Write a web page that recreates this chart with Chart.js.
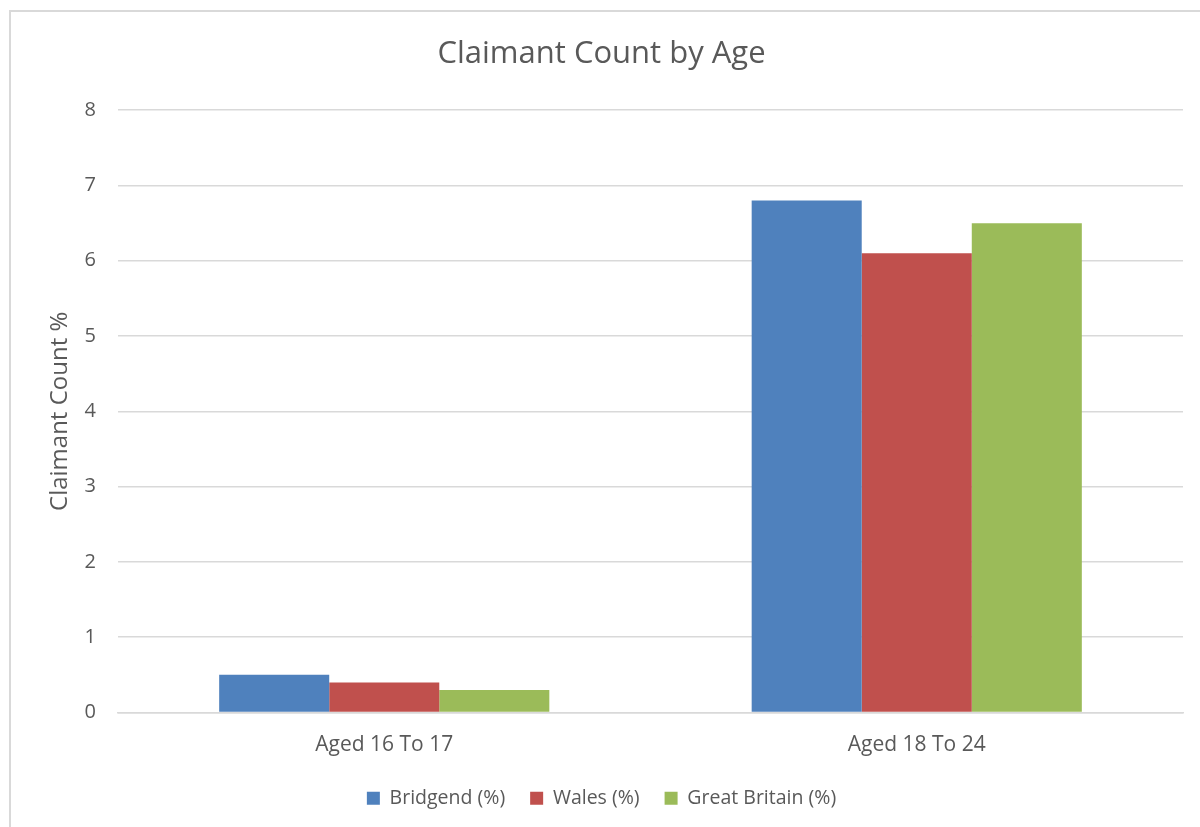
<!DOCTYPE html>
<html>
<head>
<meta charset="utf-8">
<script src="https://cdn.jsdelivr.net/npm/chart.js@4/dist/chart.umd.min.js"></script>
<style>
  html, body { margin: 0; padding: 0; background: #fff; overflow: hidden; }
  #frame { position: absolute; left: 9px; top: 10px; width: 1200px; height: 830px; border: 2px solid #d9d9d9; box-sizing: border-box; }
  #wrap { position: absolute; left: 0; top: 0; width: 1200px; height: 827px; }
</style>
</head>
<body>
<div id="frame"></div>
<div id="wrap"><canvas id="c" width="1200" height="827"></canvas></div>
<script>
const categories = ["Aged 16 To 17", "Aged 18 To 24"];
const bridgend = [0.5, 6.8];
const wales = [0.4, 6.1];
const greatBritain = [0.3, 6.5];
const seriesNames = ["Bridgend (%)", "Wales (%)", "Great Britain (%)"];
const yTicks = [0, 1, 2, 3, 4, 5, 6, 7, 8];

const FONT = "'Open Sans', 'Liberation Sans', sans-serif";
const TXT = "#595959";

new Chart(document.getElementById('c'), {
  type: 'bar',
  data: {
    labels: categories,
    datasets: [
      { label: seriesNames[0], data: bridgend, backgroundColor: '#4F81BD' },
      { label: seriesNames[1], data: wales, backgroundColor: '#C0504D' },
      { label: seriesNames[2], data: greatBritain, backgroundColor: '#9BBB59' }
    ]
  },
  options: {
    responsive: false,
    animation: false,
    devicePixelRatio: 1,
    layout: { padding: { left: 20, right: 17, top: 0, bottom: 9 } },
    datasets: { bar: { barPercentage: 1.0, categoryPercentage: 0.62, borderWidth: 0 } },
    plugins: {
      tooltip: { enabled: false },
      title: {
        display: true,
        text: 'Claimant Count by Age',
        color: TXT,
        font: { family: FONT, size: 31, weight: 'normal' },
        padding: { top: 36, bottom: 37 }
      },
      legend: {
        position: 'bottom',
        labels: {
          color: TXT,
          font: { family: FONT, size: 19.5 },
          boxWidth: 13,
          boxHeight: 13,
          padding: 25
        }
      }
    },
    scales: {
      x: {
        afterFit: (s) => { s.height = 51; },
        grid: { display: false, drawTicks: false },
        border: { display: true, color: '#d9d9d9', width: 1.5 },
        ticks: { color: TXT, font: { family: FONT, size: 21 }, padding: 20 }
      },
      y: {
        min: 0, max: 8,
        afterBuildTicks: (s) => { s.ticks = yTicks.map(v => ({ value: v })); },
        afterFit: (s) => { s.width = 98; },
        grid: { color: '#d9d9d9', lineWidth: 1.5, drawTicks: false },
        border: { display: false },
        ticks: { color: TXT, font: { family: FONT, size: 20 }, padding: 22 },
        title: {
          display: true,
          text: 'Claimant Count %',
          color: TXT,
          font: { family: FONT, size: 24 },
          padding: { top: 26, bottom: 0 }
        }
      }
    }
  }
});
</script>
</body>
</html>
